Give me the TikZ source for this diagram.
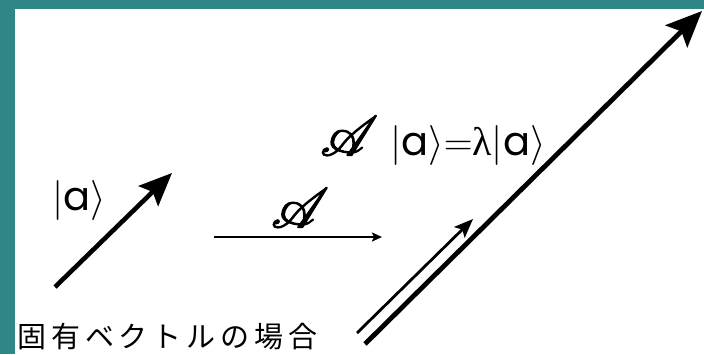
\RequirePackage{fix-cm}
\documentclass[tikz,border=0pt]{standalone}
\usepackage{fontspec}
\usepackage{mathrsfs}
\DeclareFontFamily{U}{rsfs}{\skewchar\font127 }
\DeclareFontShape{U}{rsfs}{m}{n}{<-6> rsfs5 <6-8> rsfs7 <8-> rsfs10}{}
\usetikzlibrary{arrows.meta}
\setmainfont{Poppins}
\newfontfamily\jpfont{Noto Sans CJK JP}[LetterSpace=17]
\newfontfamily\greekfont{Liberation Serif}
\definecolor{teal1}{RGB}{48,134,134}
\newcommand{\opA}{{\fontsize{56}{60}\selectfont\special{pdf:literal direct 2 Tr 1.1 w}$\mathscr{A}$\special{pdf:literal direct 0 Tr}}}
\tikzset{
  ket/.style={font=\fontsize{40}{44}\selectfont, inner sep=0pt},
  caption/.style={font=\jpfont\fontsize{29}{32}\selectfont, inner sep=0pt, anchor=base west},
  bigvec/.style={line width=4.8pt, -{Stealth[length=36pt,width=31pt,inset=7pt]}},
  midvec/.style={line width=4.6pt, -{Stealth[length=33pt,width=28pt,inset=6pt]}},
  thinvec/.style={line width=2.8pt, -{Stealth[length=19pt,width=15pt,inset=4pt]}},
  opvec/.style={line width=2.2pt, -{Stealth[length=10pt,width=9pt,inset=2pt]}},
}
\begin{document}
\begin{tikzpicture}[x=1pt,y=-1pt]
\useasboundingbox (0,0) rectangle (704,354);
\fill[teal1] (0,0) rectangle (704,354);
\fill[white] (15,9) rectangle (704,354);
% vectors
\coordinate (v1s) at (55,287);
\coordinate (v1e) at (172,173);
\coordinate (ops) at (214,237);
\coordinate (ope) at (382,237);
\coordinate (v2s) at (357,333);
\coordinate (v2e) at (473,219);
\coordinate (v3s) at (365,344);
\coordinate (v3e) at (702,11);
\draw[midvec] (v1s) -- (v1e);
\draw[opvec] (ops) -- (ope);
\draw[thinvec] (v2s) -- (v2e);
\draw[bigvec] (v3s) -- (v3e);
% labels
\node[ket] (ket) at (79,200) {$|$a$\rangle$};
\node[ket] (opA) at (300,208) {\opA};
\node[ket] (eq) at (433,141) {\opA\hspace{12pt}$|$a$\rangle{=}${\greekfont λ}$|$a$\rangle$};
\node[caption] (cap) at (17,347) {固有ベクトルの場合};
\end{tikzpicture}
\end{document}
